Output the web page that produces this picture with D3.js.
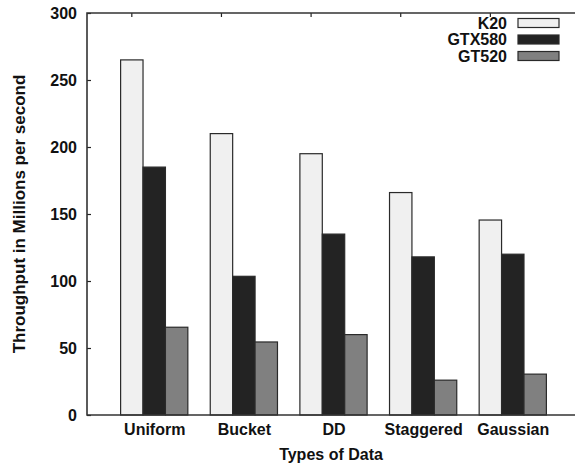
<!DOCTYPE html>
<html>
<head>
<meta charset="utf-8">
<script src="https://cdn.jsdelivr.net/npm/d3@7"></script>
<style>
  body { margin: 0; background: #fff; }
  svg text { font-family: "Liberation Sans", Arial, Helvetica, sans-serif; font-weight: bold; fill: #111; }
</style>
</head>
<body>
<div id="chart"></div>
<script>
const categories = ["Uniform", "Bucket", "DD", "Staggered", "Gaussian"];
const seriesNames = ["K20", "GTX580", "GT520"];
const k20 = [265, 210, 195, 166, 145.5];
const gtx580 = [185, 103.5, 135, 118, 120];
const gt520 = [65.5, 54.5, 60, 26, 30.5];
const yTicks = [0, 50, 100, 150, 200, 250, 300];

const colors = { K20: "#f0f0f0", GTX580: "#232323", GT520: "#808080" };
const seriesValues = { K20: k20, GTX580: gtx580, GT520: gt520 };

const W = 575, H = 470;
const plot = { left: 87, top: 13, bottom: 415, right: 580 };

const svg = d3.select("#chart").append("svg")
    .attr("width", W)
    .attr("height", H);

// group index scale, like gnuplot's histogram xrange [-0.75:4.75]
const x = d3.scaleLinear()
    .domain([-0.75, 4.75])
    .range([plot.left, plot.right]);

const barW = 0.25;

const y = d3.scaleLinear()
    .domain([0, 300])
    .range([plot.bottom, plot.top]);

// bars
seriesNames.forEach((name, j) => {
    svg.append("g")
        .selectAll("rect")
        .data(seriesValues[name])
        .join("rect")
        .attr("x", (d, i) => x(i - 0.375 + j * barW))
        .attr("width", x(barW) - x(0))
        .attr("y", d => y(d))
        .attr("height", d => y(0) - y(d))
        .style("fill", colors[name])
        .style("stroke", "#2a2a2a")
        .style("stroke-width", 1.2);
});

// y axis (inward ticks)
const yAxis = svg.append("g")
    .attr("transform", `translate(${plot.left},0)`)
    .call(d3.axisLeft(y).tickValues(yTicks).tickSize(-4).tickPadding(10))
    .style("font-size", "16px");
yAxis.select(".domain").remove();
yAxis.selectAll("line").style("stroke", "#222").style("stroke-width", 1.2);
yAxis.selectAll("text")
    .style("font-family", "'Liberation Sans', Arial, sans-serif")
    .style("font-weight", "bold")
    .style("fill", "#111");

// x labels at group centres
const xAxis = svg.append("g")
    .attr("transform", `translate(0,${plot.bottom})`)
    .call(d3.axisBottom(x).tickValues(d3.range(categories.length))
        .tickFormat(i => categories[i]).tickSize(0).tickPadding(9))
    .style("font-size", "16px");
xAxis.select(".domain").remove();
xAxis.selectAll("text")
    .style("font-family", "'Liberation Sans', Arial, sans-serif")
    .style("font-weight", "bold")
    .style("fill", "#111");

// top mirrored ticks at each cluster's first bar
svg.append("g")
    .selectAll("line")
    .data(d3.range(categories.length))
    .join("line")
    .attr("x1", i => x(i - 0.25))
    .attr("x2", i => x(i - 0.25))
    .attr("y1", plot.top)
    .attr("y2", plot.top + 4)
    .style("stroke", "#222")
    .style("stroke-width", 1.2);

// frame
svg.append("path")
    .attr("d", `M${W},${plot.top}H${plot.left}V${plot.bottom}H${W}`)
    .style("fill", "none")
    .style("stroke", "#333")
    .style("stroke-width", 1.6);

// axis titles
svg.append("text")
    .attr("x", 331)
    .attr("y", 460)
    .attr("text-anchor", "middle")
    .style("font-size", "16px")
    .text("Types of Data");

svg.append("text")
    .attr("transform", `translate(25,${(plot.top + plot.bottom) / 2}) rotate(-90)`)
    .attr("text-anchor", "middle")
    .style("font-size", "17px")
    .text("Throughput in Millions per second");

// legend
const legend = svg.append("g").attr("transform", "translate(507,23)");
seriesNames.forEach((name, j) => {
    const row = legend.append("g").attr("transform", `translate(0,${j * 16.5})`);
    row.append("text")
        .attr("x", 0)
        .attr("dy", "0.36em")
        .attr("text-anchor", "end")
        .style("font-size", "16px")
        .text(name);
    row.append("rect")
        .attr("x", 11)
        .attr("y", -4.5)
        .attr("width", 41)
        .attr("height", 9)
        .style("fill", colors[name])
        .style("stroke", "#2a2a2a")
        .style("stroke-width", 1.2);
});
</script>
</body>
</html>
